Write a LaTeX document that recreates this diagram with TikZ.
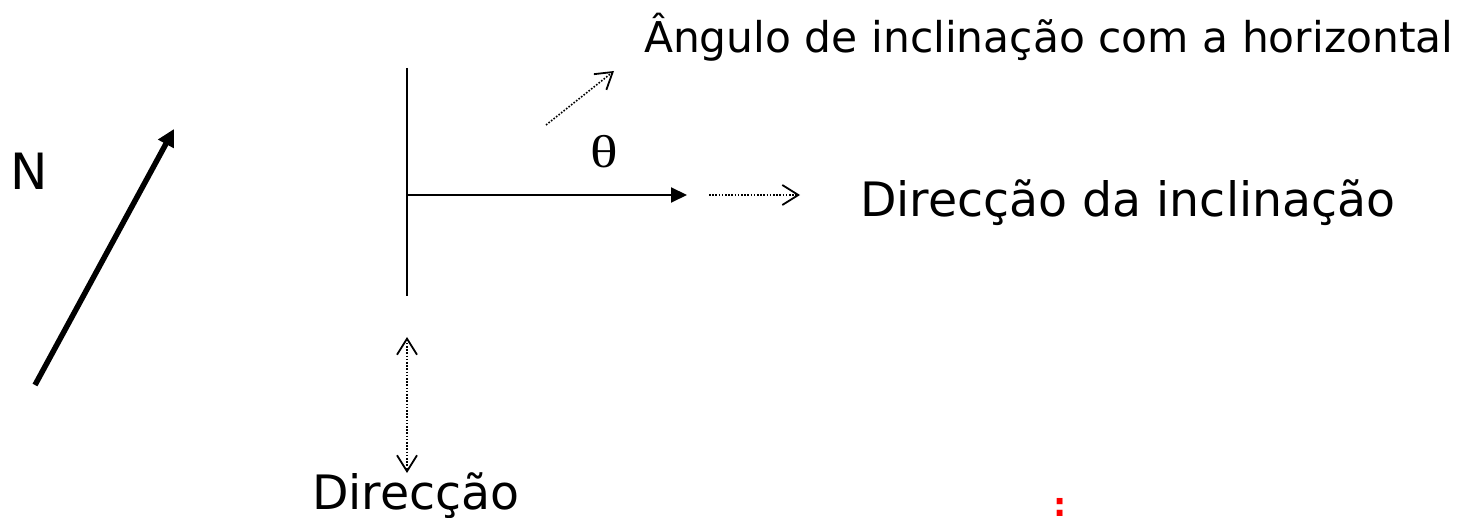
\documentclass[tikz,border=0pt]{standalone}
\usepackage{fontspec}
\usepackage{graphicx}
\setmainfont{DejaVu Sans}
\newfontfamily\thetafont{Liberation Serif}
\usetikzlibrary{arrows.meta}
\tikzset{
  label text/.style={anchor=base west,inner sep=0pt,outer sep=0pt,font=\fontsize{47.4}{50}\selectfont},
  solid arrow/.style={draw=black,line width=2pt,-{Triangle[length=16pt,width=15pt]}},
  thin line/.style={draw=black,line width=2pt},
  dot arrow/.style={draw=black,line width=1.6pt,dash pattern=on 1.6pt off 1.6pt,-{Straight Barb[length=16pt,width=20pt,line width=1.8pt]}},
  dot arrow both/.style={draw=black,line width=1.6pt,dash pattern=on 1.6pt off 1.6pt,{Straight Barb[length=16pt,width=20pt,line width=1.8pt]}-{Straight Barb[length=16pt,width=20pt,line width=1.8pt]}}
}
\begin{document}
\begin{tikzpicture}[x=1pt,y=-1pt]
\useasboundingbox (0,0) rectangle (1477,518);
\node[label text,font=\fontsize{50}{50}\selectfont] (n) at (10,190) {N};
\node[label text,font=\fontsize{42.4}{50}\selectfont] (angulo) at (644,53) {Ângulo de inclinação com a horizontal};
\node[label text] (direccaoincl) at (860,217) {Direcção da inclinação};
\node[label text] (direccao) at (312,509) {Direcção};
\node[anchor=base,inner sep=0pt,font=\thetafont\fontsize{46}{50}\selectfont] (theta) at (604.5,167.5) {\scalebox{1.25}[1]{θ}};
\node[anchor=base,inner sep=0pt,text=red,font=\bfseries\fontsize{33}{33}\selectfont] (colon) at (1060,516) {:};
\coordinate (na) at (35,385);
\coordinate (nb) at (174,129);
\draw[line width=5.5pt,-{Triangle[length=17pt,width=17pt]}] (na) -- (nb);
\coordinate (vt) at (407,68);
\coordinate (vb) at (407,296);
\coordinate (hs) at (407,195);
\coordinate (he) at (687,195);
\draw[thin line] (vt) -- (vb);
\draw[solid arrow] (hs) -- (he);
\coordinate (d1a) at (546,125);
\coordinate (d1b) at (614,71);
\draw[dot arrow] (d1a) -- (d1b);
\coordinate (d2a) at (709,195);
\coordinate (d2b) at (800,195);
\draw[dot arrow] (d2a) -- (d2b);
\coordinate (d3a) at (407,337);
\coordinate (d3b) at (407,473);
\draw[dot arrow both] (d3a) -- (d3b);
\end{tikzpicture}
\end{document}
